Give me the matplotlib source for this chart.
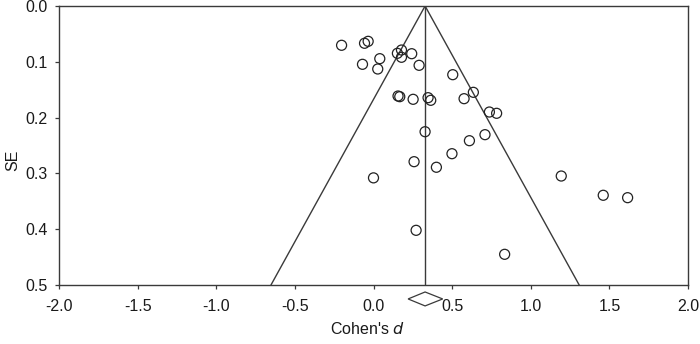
import matplotlib
matplotlib.use("Agg")
import matplotlib.pyplot as plt
import numpy as np

plt.rcParams['font.family'] = ['Liberation Sans', 'DejaVu Sans']

# Study effect sizes (Cohen's d) and standard errors
cohens_d = [-0.203, -0.057, -0.034, 0.152, 0.178, 0.178, 0.243, 0.040, -0.070, 0.027,
            0.290, 0.504, 0.156, 0.167, 0.252, 0.347, 0.364, 0.576, 0.635, 0.737,
            0.783, 0.328, 0.709, 0.610, 0.499, 0.258, 0.400, 0.000, 1.194, 1.461,
            1.616, 0.271, 0.834]
se = [0.0704, 0.0668, 0.0633, 0.0848, 0.0789, 0.0919, 0.0855, 0.0944, 0.1045, 0.1129,
      0.1063, 0.1231, 0.1613, 0.1625, 0.1672, 0.1643, 0.1690, 0.1661, 0.1547, 0.1900,
      0.1923, 0.2253, 0.2306, 0.2414, 0.2647, 0.2790, 0.2890, 0.3080, 0.3047, 0.3392,
      0.3435, 0.4020, 0.4450]

pooled_d = 0.328
pooled_ci = [0.22, 0.44]
se_max = 0.5

xticks = [-2.0, -1.5, -1.0, -0.5, 0.0, 0.5, 1.0, 1.5, 2.0]
yticks = [0.0, 0.1, 0.2, 0.3, 0.4, 0.5]

col = '#3a3a3a'
fig = plt.figure(figsize=(7.0, 3.44), dpi=100)
ax = fig.add_axes([59/700, 1-285/344, (688-59)/700, (285-6)/344])

# funnel
ax.plot([pooled_d - 1.96*se_max, pooled_d, pooled_d + 1.96*se_max], [se_max, 0, se_max],
        color=col, lw=1.0, solid_joinstyle='miter')
ax.plot([pooled_d, pooled_d], [0, se_max], color=col, lw=1.0)

ax.scatter(cohens_d, se, s=52, facecolors='none', edgecolors='#222222', linewidths=0.9, zorder=3)

# pooled diamond below axis
yd = 0.525
hd = 0.0125
ax.fill([pooled_ci[0], pooled_d, pooled_ci[1], pooled_d, pooled_ci[0]],
        [yd, yd - hd, yd, yd + hd, yd], facecolor='white', edgecolor=col, lw=0.9,
        clip_on=False, zorder=5)

ax.set_xlim(-2.0, 2.0)
ax.set_ylim(0.5, 0.0)
ax.set_xticks(xticks)
ax.set_xticklabels([f'{t:.1f}' for t in xticks])
ax.set_yticks(yticks)
ax.set_yticklabels([f'{t:.1f}' for t in yticks])
for s in ax.spines.values():
    s.set_color(col)
    s.set_linewidth(1.0)
ax.tick_params(direction='out', length=3, width=0.9, color=col, labelsize=11.5,
               labelcolor='#1a1a1a')
ax.tick_params(axis='x', pad=7)
ax.tick_params(axis='y', pad=5)
ax.set_xlabel("Cohen's $\\it{d}$", fontsize=11.5, color='#1a1a1a')
ax.set_ylabel('SE', fontsize=11.5, color='#1a1a1a')
ax.xaxis.set_label_coords((367-59)/629, -(321-285)/279)
ax.yaxis.set_label_coords(-(59-20)/629, (285-160)/279)

fig.savefig('out.png', dpi=100)
